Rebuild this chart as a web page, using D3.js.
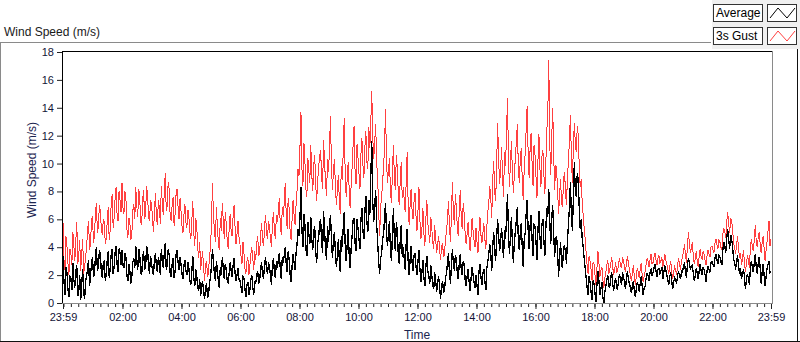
<!DOCTYPE html>
<html>
<head>
<meta charset="utf-8">
<script src="https://cdn.jsdelivr.net/npm/d3@7"></script>
<style>
  html, body { margin: 0; padding: 0; background: #fff; }
  svg { display: block; font-family: "Liberation Sans", Arial, sans-serif; }
</style>
</head>
<body>
<div id="chart"></div>
<script>
(function() {
  'use strict';

  // 2-minute samples from 23:59 to 23:59 (one row per hour, 30 samples)
  var gust = [
    5.8,3.1, 2.4,4.8, 4.1,2.9, 2.0,3.9, 3.6,2.7, 5.1,4.2, 3.0,4.4, 5.8,2.8, 3.4,4.5, 2.3,3.5, 4.6,2.1, 2.6,3.3, 4.0,5.2, 5.9,3.8, 4.3,6.0,
    6.2,4.3, 4.8,6.4, 7.2,5.0, 5.5,7.0, 6.6,5.3, 4.9,6.0, 5.8,4.2, 4.6,5.9, 6.9,4.5, 5.2,7.1, 7.8,5.4, 6.1,7.5, 8.3,6.3, 5.9,8.0, 7.4,6.5,
    8.6,6.8, 6.4,8.0, 7.5,5.3, 4.7,6.1, 5.8,4.5, 4.9,6.6, 7.1,6.0, 8.3,7.0, 6.2,8.2, 7.6,5.8, 5.6,7.4, 8.1,6.0, 6.5,8.4, 7.7,6.2, 5.9,7.3,
    7.2,6.0, 5.1,6.5, 7.9,6.2, 5.6,7.4, 6.8,5.7, 8.4,7.1, 6.3,8.0, 9.3,6.6, 7.0,8.7, 8.1,6.2, 5.9,7.0, 7.6,5.5, 6.4,7.8, 8.2,6.9, 6.0,7.5,
    6.6,5.5, 5.0,6.3, 7.1,5.8, 5.4,6.7, 6.2,5.1, 4.6,5.9, 7.3,5.0, 4.1,6.1, 5.5,4.0, 3.2,4.4, 2.4,3.1, 3.7,2.5, 1.6,2.8, 3.0,1.9, 2.2,3.4,
    3.9,5.8, 8.6,6.4, 5.2,4.4, 6.9,5.5, 4.3,3.8, 6.1,5.2, 7.2,5.9, 4.6,6.5, 5.7,4.5, 3.9,5.3, 6.4,5.1, 4.8,6.2, 7.0,5.4, 4.2,5.0, 5.9,4.7,
    4.2,3.4, 2.8,4.4, 3.6,2.5, 2.1,3.0, 3.3,2.0, 2.6,3.5, 4.0,3.2, 2.4,3.7, 3.1,4.3, 4.8,3.4, 3.6,5.0, 5.7,4.4, 4.1,5.5, 6.3,5.0, 4.6,5.9,
    5.4,4.6, 4.0,5.7, 6.5,5.2, 4.6,6.3, 5.8,6.6, 7.5,5.5, 4.9,6.9, 6.2,7.2, 8.6,6.4, 5.3,7.5, 6.8,5.1, 4.5,6.0, 7.4,6.3, 5.6,7.0, 8.1,9.6,
    9.1,11.2, 13.7,9.6, 8.4,11.5, 10.2,8.2, 7.6,10.4, 9.5,8.6, 11.3,9.2, 8.0,9.9, 10.6,8.5, 7.3,8.8, 9.8,10.5, 11.0,9.0, 8.2,11.7, 10.1,8.6, 7.7,10.3,
    9.4,11.0, 13.4,9.9, 8.1,9.4, 10.3,8.5, 7.0,8.0, 9.2,7.4, 6.4,9.8, 8.8,10.9, 13.3,9.1, 7.6,8.9, 10.1,8.2, 6.8,8.4, 9.7,11.3, 12.7,9.5, 8.5,11.4,
    10.4,9.3, 8.2,10.7, 11.8,9.9, 9.0,11.2, 12.3,10.1, 9.6,12.6, 11.1,13.0, 15.2,11.9, 10.3,11.6, 12.8,10.0, 9.1,6.6, 4.8,6.9, 7.5,8.8, 9.6,11.4, 13.9,10.2,
    8.6,9.5, 10.4,8.0, 7.2,9.3, 11.3,9.0, 8.1,10.6, 9.7,7.8, 7.0,8.9, 10.1,7.5, 8.3,7.4, 6.5,8.7, 10.8,7.1, 5.6,7.0, 8.2,6.6, 6.0,7.3, 7.9,6.2,
    5.2,6.6, 8.3,5.9, 4.6,5.3, 6.8,5.0, 4.1,6.0, 7.4,5.7, 5.0,4.3, 6.2,5.4, 4.4,3.9, 5.6,4.5, 3.6,4.2, 4.8,3.8, 3.1,4.0, 4.3,3.3, 3.5,4.7,
    5.1,6.0, 7.3,5.6, 4.4,6.2, 8.7,6.5, 5.6,7.8, 6.9,5.4, 4.8,6.7, 8.1,6.1, 5.3,7.2, 6.4,4.9, 4.2,5.0, 5.8,4.6, 3.7,4.8, 6.1,5.2, 4.5,4.0,
    5.4,4.4, 3.6,5.1, 6.2,4.9, 4.3,5.0, 5.7,4.6, 3.9,5.5, 6.5,7.2, 8.4,7.6, 6.1,8.8, 10.2,8.0, 7.3,9.9, 12.9,10.4, 8.5,9.6, 11.2,9.1, 7.6,10.8,
    9.8,12.0, 14.7,10.6, 8.3,10.0, 11.6,9.4, 7.9,9.2, 10.4,11.5, 12.8,9.9, 8.6,10.2, 11.1,9.0, 7.4,9.5, 10.7,12.4, 14.1,10.8, 9.0,11.0, 12.2,10.1, 8.4,11.3,
    10.6,9.1, 7.5,10.2, 12.1,9.7, 8.3,10.5, 11.0,9.3, 7.8,10.0, 12.4,13.6, 17.4,11.5, 9.2,11.8, 14.0,10.7, 8.1,9.9, 9.6,8.0, 6.4,7.7, 8.9,7.2, 6.9,8.8,
    9.4,8.1, 7.0,9.0, 10.2,11.6, 13.5,10.5, 8.6,11.2, 12.9,11.4, 10.8,12.7, 12.0,9.8, 8.3,8.9, 7.2,6.3, 5.4,4.6, 3.6,2.7, 2.1,3.4, 3.0,2.4, 1.6,2.9,
    2.8,2.0, 1.3,2.5, 3.7,2.9, 1.9,2.3, 2.6,1.7, 1.1,1.8, 2.2,2.7, 3.1,2.1, 2.4,2.8, 3.3,2.6, 2.0,2.4, 2.9,2.2, 2.3,2.8, 3.2,2.7, 2.5,3.3,
    3.0,2.6, 2.2,2.9, 3.4,2.8, 2.4,2.0, 1.6,2.1, 2.7,1.9, 1.3,1.9, 2.5,2.2, 1.8,2.4, 2.9,2.0, 1.5,1.9, 2.3,2.8, 3.2,3.0, 2.6,3.1, 3.5,2.8,
    2.9,3.3, 3.6,3.1, 2.7,3.2, 3.4,2.9, 3.0,3.3, 2.6,3.0, 3.5,3.1, 2.8,2.5, 2.1,2.6, 3.0,2.3, 1.7,2.2, 2.6,2.4, 2.0,2.7, 3.2,2.8, 2.4,3.0,
    3.3,3.7, 4.2,3.5, 2.9,4.0, 5.1,4.3, 3.6,3.9, 4.4,3.3, 2.8,3.2, 3.7,3.0, 2.6,3.4, 3.9,3.3, 3.1,3.7, 3.5,3.0, 2.7,3.4, 3.8,3.5, 3.3,4.0,
    4.1,3.8, 3.6,4.3, 4.6,4.2, 3.9,4.5, 4.4,4.0, 3.8,4.9, 5.4,5.1, 4.7,5.8, 6.5,5.6, 5.0,6.1, 5.9,5.2, 4.3,4.0, 3.5,4.2, 4.8,3.9, 3.2,3.6,
    2.7,3.2, 3.8,2.9, 2.2,2.8, 3.4,3.1, 2.5,3.9, 4.6,4.1, 3.7,4.5, 5.6,4.4, 4.0,4.7, 5.1,4.2, 3.6,4.3, 4.8,3.9, 3.0,3.8, 4.4,5.2, 5.9,4.1,
    4.6
  ];
  var average = [
    3.4,1.5, 0.6,2.6, 2.2,1.0, 0.4,1.9, 1.8,0.9, 2.9,1.7, 1.1,2.3, 2.7,0.5, 0.8,2.0, 0.2,1.3, 2.4,0.7, 0.3,1.6, 1.9,2.5, 3.1,1.2, 2.0,2.8,
    3.3,1.9, 2.1,3.4, 4.0,2.3, 2.6,3.8, 3.5,2.2, 1.8,2.9, 3.0,1.6, 2.0,3.1, 3.7,1.8, 2.4,3.5, 3.9,2.1, 2.6,3.6, 4.1,2.8, 2.2,3.9, 3.6,2.7,
    3.8,2.7, 2.5,3.6, 3.3,2.0, 1.6,2.8, 2.3,1.4, 1.9,2.9, 3.2,2.5, 4.1,3.0, 2.4,3.9, 3.5,2.2, 2.0,3.3, 3.7,2.4, 2.6,4.0, 3.9,2.6, 2.1,3.4,
    2.9,2.3, 2.0,3.1, 3.6,2.6, 2.2,3.3, 2.8,2.0, 3.9,3.0, 2.5,3.6, 4.3,2.4, 2.7,3.9, 3.4,2.1, 1.9,2.8, 3.2,1.8, 2.3,3.5, 3.8,2.9, 2.4,3.3,
    2.8,2.1, 1.7,2.7, 3.1,2.3, 2.0,2.9, 2.5,1.6, 1.3,2.2, 3.4,1.8, 1.2,2.4, 2.0,1.1, 0.9,1.7, 0.5,1.2, 1.6,0.7, 0.3,1.1, 1.4,0.4, 0.6,1.5,
    1.8,2.7, 3.9,2.9, 2.1,1.6, 3.0,2.4, 1.5,1.1, 2.6,2.0, 3.3,2.5, 1.7,2.8, 2.4,1.6, 1.4,2.2, 2.9,2.3, 1.9,2.7, 3.2,2.1, 1.6,2.0, 2.5,1.7,
    1.6,1.2, 0.7,1.9, 1.8,1.0, 0.4,1.3, 1.5,0.6, 0.9,1.7, 2.0,1.1, 0.6,1.6, 1.4,2.0, 2.3,1.4, 1.6,2.5, 2.9,1.9, 1.8,2.7, 3.3,2.4, 2.1,2.9,
    2.6,1.9, 1.3,2.8, 3.2,2.2, 1.8,3.0, 2.5,3.1, 3.6,2.4, 1.7,3.3, 2.9,3.4, 4.0,2.8, 2.2,3.7, 3.1,2.0, 1.5,2.7, 3.5,2.9, 2.4,3.6, 4.2,5.3,
    4.8,6.1, 8.3,5.2, 4.0,6.4, 5.6,3.9, 3.4,5.8, 5.0,4.2, 6.2,4.6, 3.8,5.1, 5.5,3.6, 2.9,4.3, 4.7,5.7, 6.0,4.4, 3.6,6.6, 5.2,3.9, 3.1,5.5,
    4.4,5.6, 6.3,4.7, 3.2,4.5, 5.1,3.7, 2.6,3.4, 4.6,3.1, 2.2,4.8, 4.0,5.4, 6.5,4.1, 3.0,4.2, 5.3,3.5, 2.5,3.9, 4.8,5.9, 6.1,4.3, 3.7,6.0,
    5.4,4.6, 3.9,6.0, 6.8,5.2, 4.6,6.5, 7.7,5.8, 5.1,7.4, 6.3,9.0, 11.6,7.3, 5.8,7.0, 8.1,5.6, 4.4,3.0, 2.1,3.2, 3.5,4.6, 4.9,6.1, 7.2,5.0,
    4.1,5.0, 5.9,3.8, 3.0,4.9, 6.8,4.5, 3.7,5.8, 5.2,3.4, 2.8,4.6, 5.6,3.3, 4.0,3.2, 2.4,4.3, 5.3,3.0, 2.0,3.1, 4.1,2.9, 2.3,3.4, 3.6,2.6,
    2.0,3.0, 3.8,2.4, 1.5,2.2, 3.1,1.8, 1.2,2.6, 3.4,2.3, 1.9,1.4, 2.7,2.0, 1.3,1.0, 2.2,1.6, 0.8,1.5, 1.9,1.1, 0.3,1.2, 1.6,0.7, 0.9,1.8,
    2.1,2.9, 3.6,2.2, 1.4,2.7, 3.9,2.8, 2.3,3.4, 3.2,2.1, 1.7,2.9, 3.5,2.4, 2.0,3.0, 2.8,1.6, 1.2,1.9, 2.4,1.5, 0.9,1.8, 2.6,2.0, 1.5,1.1,
    2.0,1.3, 0.6,2.2, 2.8,1.9, 1.3,2.1, 2.4,1.6, 0.9,2.5, 3.0,3.5, 4.2,3.6, 2.3,4.0, 5.1,3.8, 3.0,4.7, 6.0,4.9, 3.7,4.4, 5.4,4.3, 3.2,5.2,
    4.6,6.0, 7.8,5.1, 3.5,4.8, 6.2,4.3, 2.9,4.4, 5.1,5.9, 6.9,4.7, 3.8,5.0, 5.7,4.1, 2.6,4.5, 5.0,6.4, 7.4,5.3, 3.9,5.5, 6.3,4.6, 3.4,5.6,
    5.5,4.4, 3.1,5.2, 6.6,4.7, 3.9,5.6, 6.0,4.5, 3.4,5.3, 6.8,6.2, 8.2,5.9, 4.2,6.1, 7.0,5.0, 3.3,4.6, 4.8,3.6, 1.9,3.3, 4.4,2.8, 2.5,4.0,
    4.1,3.7, 2.8,4.5, 5.6,6.9, 8.7,6.3, 5.2,7.4, 10.1,8.0, 7.6,9.3, 8.9,6.8, 5.3,6.0, 4.6,4.0, 3.2,2.5, 1.8,1.1, 0.6,1.9, 1.5,0.8, 0.2,1.6,
    1.4,0.7, 0.1,1.3, 2.3,1.6, 0.6,1.0, 1.5,0.4, 0.0,0.8, 1.2,1.7, 2.0,1.2, 1.1,1.9, 2.2,1.4, 0.9,1.5, 1.8,1.1, 1.0,1.7, 2.1,1.6, 1.3,2.2,
    1.9,1.5, 1.0,1.8, 2.3,1.7, 1.4,1.1, 0.7,1.2, 1.6,0.9, 0.4,1.0, 1.5,1.3, 0.8,1.4, 1.9,1.2, 0.6,1.1, 1.2,1.8, 2.1,2.0, 1.6,2.2, 2.4,2.0,
    2.2,2.5, 2.8,2.3, 1.9,2.4, 2.5,2.1, 2.3,2.6, 1.7,2.2, 2.7,2.4, 2.0,1.7, 1.3,1.9, 2.2,1.6, 1.0,1.5, 1.8,1.6, 1.4,2.0, 2.3,1.9, 1.7,2.3,
    2.2,2.6, 2.9,2.3, 1.8,2.7, 3.2,2.9, 2.4,2.6, 2.7,2.1, 1.6,2.0, 2.5,2.1, 1.7,2.3, 2.8,2.3, 2.0,2.6, 2.4,2.0, 1.5,2.3, 2.6,2.4, 2.2,2.9,
    3.0,2.8, 2.6,3.2, 3.5,3.1, 2.8,3.4, 3.3,3.0, 2.7,3.8, 4.4,4.1, 3.6,4.7, 5.3,4.5, 3.9,4.9, 4.6,4.0, 3.1,2.9, 2.4,3.0, 3.4,2.7, 2.1,2.5,
    1.7,2.1, 2.4,1.9, 1.0,1.6, 2.1,1.8, 1.3,2.4, 3.0,2.6, 2.2,2.9, 3.5,2.6, 2.1,2.8, 3.3,2.5, 1.4,2.2, 2.8,2.0, 1.2,1.9, 2.5,2.8, 3.0,2.2,
    2.3
  ];
  var yTicks = [0, 2, 4, 6, 8, 10, 12, 14, 16, 18];
  var xTickHours = [2, 4, 6, 8, 10, 12, 14, 16, 18, 20, 22];
  var seriesNames = ['Average', '3s Gust'];
  var seriesColors = ['#000000', '#ff4040'];

  var W = 800, H = 342;
  var left = 63, right = 771, top = 52, bottom = 303;

  var t0 = new Date(2020, 0, 1, 23, 59);
  var t1 = new Date(2020, 0, 2, 23, 59);
  var stepMs = 2 * 60 * 1000;

  var x = d3.scaleTime().domain([t0, t1]).range([left, right]);
  var y = d3.scaleLinear().domain([0, 18]).range([bottom, top]);

  var svg = d3.select('#chart').append('svg').attr('width', W).attr('height', H);
  svg.append('rect').attr('width', W).attr('height', H).attr('fill', '#fff');

  // outer panel
  svg.append('rect').attr('x', 712).attr('y', 0).attr('width', 88).attr('height', 49).attr('fill', '#f0f0f0');
  svg.append('line').attr('x1', 0).attr('x2', 711).attr('y1', 42.5).attr('y2', 42.5).attr('stroke', '#8a8a8a');
  svg.append('line').attr('x1', 0.5).attr('x2', 0.5).attr('y1', 42).attr('y2', H).attr('stroke', '#8a8a8a');
  svg.append('line').attr('x1', 0).attr('x2', W).attr('y1', 341.5).attr('y2', 341.5).attr('stroke', '#111');
  svg.append('line').attr('x1', 797.5).attr('x2', 797.5).attr('y1', 49).attr('y2', H).attr('stroke', '#111');

  svg.append('text').attr('x', 4).attr('y', 36).attr('font-size', '12px').attr('fill', '#1a1a1a')
    .text('Wind Speed (m/s)');

  // legend
  seriesNames.forEach(function(name, i) {
    var by = 4 + i * 23;
    var lg = svg.append('g');
    lg.append('rect').attr('x', 713.5).attr('y', by + 0.5).attr('width', 49).attr('height', 17)
      .attr('fill', '#fff').attr('stroke', '#333');
    lg.append('text').attr('x', 716).attr('y', by + 13).attr('font-size', '12px').attr('fill', '#000').text(name);
    lg.append('rect').attr('x', 767.5).attr('y', by + 0.5).attr('width', 29).attr('height', 17)
      .attr('fill', '#fff').attr('stroke', '#333');
    lg.append('polyline')
      .attr('points', [[770, by + 14], [778, by + 4], [787, by + 14], [795, by + 4]].join(' '))
      .attr('fill', 'none').attr('stroke', seriesColors[i]).attr('stroke-width', 1);
  });

  // plot frame
  svg.append('line').attr('x1', 62).attr('x2', 772).attr('y1', 51.5).attr('y2', 51.5).attr('stroke', '#000');
  svg.append('line').attr('x1', 62.5).attr('x2', 62.5).attr('y1', 51).attr('y2', 304).attr('stroke', '#000');
  svg.append('line').attr('x1', 772.5).attr('x2', 772.5).attr('y1', 51).attr('y2', 304).attr('stroke', '#8a8a8a');
  svg.append('line').attr('x1', 62).attr('x2', 773).attr('y1', 303.5).attr('y2', 303.5).attr('stroke', '#8a8a8a');

  var clip = svg.append('clipPath').attr('id', 'plotclip');
  clip.append('rect').attr('x', 63).attr('y', 52).attr('width', 709).attr('height', 251);

  function series(vals) {
    return vals.map(function(v, i) { return { t: new Date(t0.getTime() + i * stepMs), v: v }; });
  }
  var line = d3.line().x(function(d) { return x(d.t); }).y(function(d) { return y(d.v); });

  // pixel-style traces, no antialiasing
  var plot = svg.append('g').attr('clip-path', 'url(#plotclip)');
  plot.append('path').datum(series(gust)).attr('d', line)
    .attr('fill', 'none').attr('stroke', seriesColors[1]).attr('stroke-width', 1)
    .attr('shape-rendering', 'crispEdges');
  plot.append('path').datum(series(average)).attr('d', line)
    .attr('fill', 'none').attr('stroke', seriesColors[0]).attr('stroke-width', 1.3)
    .attr('shape-rendering', 'crispEdges');

  // y axis
  var yAxis = svg.append('g').attr('transform', 'translate(62,0)')
    .call(d3.axisLeft(y).tickValues(yTicks).tickSize(5).tickPadding(3).tickFormat(d3.format('d')));
  yAxis.select('.domain').remove();
  yAxis.selectAll('line').attr('stroke', '#222');
  yAxis.selectAll('text').attr('font-size', '11px').attr('fill', '#141438')
    .attr('font-family', '"Liberation Sans", Arial, sans-serif');

  // x axis minor ticks
  var minor = d3.timeMinute.every(15).range(t0, t1);
  var xMinor = svg.append('g').attr('transform', 'translate(0,304)')
    .call(d3.axisBottom(x).tickValues(minor).tickSize(3).tickFormat(''));
  xMinor.select('.domain').remove();
  xMinor.selectAll('line').attr('stroke', '#222');

  var majors = [t0].concat(xTickHours.map(function(h) { return new Date(2020, 0, 2, h, 0); })).concat([t1]);
  var xAxis = svg.append('g').attr('transform', 'translate(0,304)')
    .call(d3.axisBottom(x).tickValues(majors).tickSize(5).tickPadding(4).tickFormat(d3.timeFormat('%H:%M')));
  xAxis.select('.domain').remove();
  xAxis.selectAll('line').attr('stroke', '#222');
  xAxis.selectAll('text').attr('font-size', '11px').attr('fill', '#141438')
    .attr('font-family', '"Liberation Sans", Arial, sans-serif');

  // axis titles
  svg.append('text').attr('x', 417).attr('y', 339).attr('text-anchor', 'middle')
    .attr('font-size', '12px').attr('fill', '#1c2550').text('Time');
  svg.append('text').attr('transform', 'translate(36,170) rotate(-90)').attr('text-anchor', 'middle')
    .attr('font-size', '12px').attr('fill', '#1c2550').text('Wind Speed (m/s)');
})();
</script>
</body>
</html>
